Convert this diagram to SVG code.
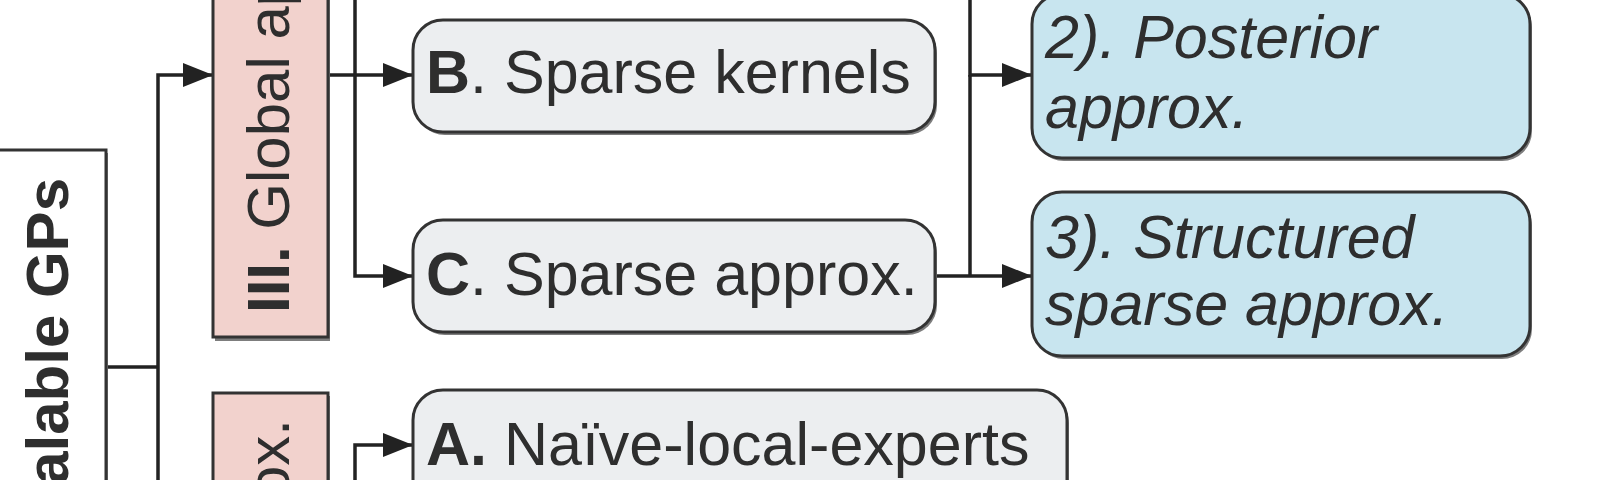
<svg xmlns="http://www.w3.org/2000/svg" width="1600" height="480" viewBox="0 0 1600 480">
<style>
.t{font-family:"Liberation Sans",Arial,sans-serif;fill:#2e2e2e}
.h{font-size:61px}
.r{font-size:60px}
.b{font-weight:bold}
.i{font-style:italic}
.box{stroke:#333;stroke-width:3}
.sh{fill:#7d7d7d}
.gray{fill:#eceef0}
.pink{fill:#f2d2cd}
.blue{fill:#c8e5ef}
.c{fill:none;stroke:#222;stroke-width:3.5}
</style>
<defs>
<marker id="ar" viewBox="0 0 30 24" refX="30" refY="12" markerWidth="30" markerHeight="24" markerUnits="userSpaceOnUse" orient="auto">
<path d="M0,0 L30,12 L0,24 z" fill="#222"/>
</marker>
</defs>
<rect width="1600" height="480" fill="#ffffff"/>
<g id="connectors">
<path class="c" d="M106,367 H158"/>
<path class="c" d="M158,500 V75 H213" marker-end="url(#ar)"/>
<path class="c" d="M328,75 H413" marker-end="url(#ar)"/>
<path class="c" d="M355,-10 V276 H413" marker-end="url(#ar)"/>
<path class="c" d="M355,500 V445 H413" marker-end="url(#ar)"/>
<path class="c" d="M970,-10 V75 H1032" marker-end="url(#ar)"/>
<path class="c" d="M970,75 V276"/>
<path class="c" d="M935,276 H1032" marker-end="url(#ar)"/>
</g>
<g id="scalable-gps">
<rect class="sh" x="-8" y="153" width="116" height="400"/>
<rect class="box" x="-10" y="150" width="116" height="400" fill="#ffffff"/>
<text class="t r b" transform="translate(68,178) rotate(-90)" text-anchor="end">Scalable GPs</text>
</g>
<g id="global-approx">
<rect class="sh" x="215" y="-17" width="115" height="358"/>
<rect class="box pink" x="213" y="-20" width="115" height="357"/>
<text class="t r" transform="translate(289,313) rotate(-90)"><tspan class="b">III.</tspan> Global approx.</text>
</g>
<g id="local-approx">
<rect class="sh" x="215" y="396" width="115" height="130"/>
<rect class="box pink" x="213" y="393" width="115" height="130"/>
<text class="t r" transform="translate(289,419) rotate(-90)" text-anchor="end"><tspan class="b">IV.</tspan> Local approx.</text>
</g>
<g id="sparse-kernels">
<rect class="sh" x="415" y="23" width="522" height="112" rx="30"/>
<rect class="box gray" x="413" y="20" width="522" height="112" rx="30"/>
<text class="t h" x="426" y="93"><tspan class="b">B</tspan>. Sparse kernels</text>
</g>
<g id="sparse-approx">
<rect class="sh" x="415" y="223" width="522" height="112" rx="30"/>
<rect class="box gray" x="413" y="220" width="522" height="112" rx="30"/>
<text class="t h" x="426" y="295"><tspan class="b">C</tspan>. Sparse approx.</text>
</g>
<g id="naive-local-experts">
<rect class="sh" x="415" y="393" width="654" height="120" rx="30"/>
<rect class="box gray" x="413" y="390" width="654" height="120" rx="30"/>
<text class="t h" x="426" y="465"><tspan class="b">A.</tspan> Naïve-local-experts</text>
</g>
<g id="posterior-approx">
<rect class="sh" x="1034" y="-3" width="498" height="164" rx="30"/>
<rect class="box blue" x="1032" y="-6" width="498" height="164" rx="30"/>
<text class="t h i" x="1045" y="58">2). Posterior</text>
<text class="t h i" x="1045" y="128">approx.</text>
</g>
<g id="structured-sparse-approx">
<rect class="sh" x="1034" y="195" width="498" height="164" rx="30"/>
<rect class="box blue" x="1032" y="192" width="498" height="164" rx="30"/>
<text class="t h i" x="1045" y="258">3). Structured</text>
<text class="t h i" x="1045" y="325">sparse approx.</text>
</g>
</svg>
